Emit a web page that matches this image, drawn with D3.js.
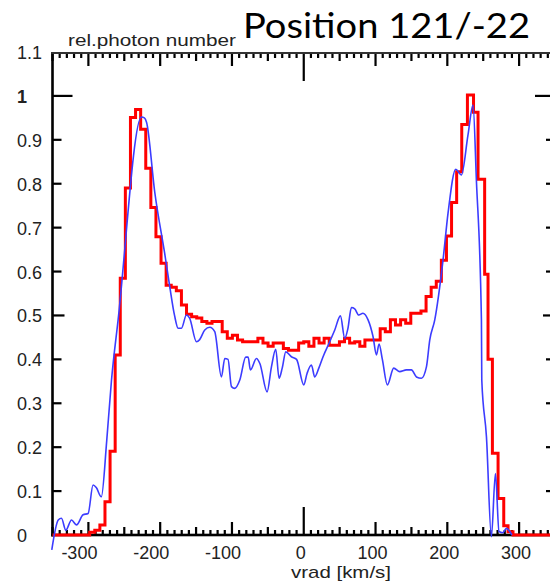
<!DOCTYPE html>
<html><head><meta charset="utf-8">
<script src="https://cdn.jsdelivr.net/npm/d3@7"></script>
<style>html,body{margin:0;padding:0;background:#fff;}svg{display:block;}</style>
</head><body>
<svg id="c" width="550" height="583"></svg>
<script>
// ---- data ----
const title = "Position 121/-22";
const yTitle = "rel.photon number";
const xTitle = "vrad [km/s]";
const xTickLabels = [-300, -200, -100, 0, 100, 200, 300];
const yTickLabels = [0, 0.1, 0.2, 0.3, 0.4, 0.5, 0.6, 0.7, 0.8, 0.9, 1, 1.1];

// red step histogram: left bin edges (km/s) and values
const redEdges = [-350, -298.2, -291.1, -284, -276.9, -269.8, -262.7, -255.6, -248.5, -241.4, -234.3, -227.2, -220.1, -213, -205.9, -198.8, -191.7, -184.6, -177.5, -170.4, -163.3, -156.2, -149.1, -142, -134.9, -127.8, -120.7, -113.6, -106.5, -99.4, -92.3, -85.2, -78.1, -71, -63.9, -56.8, -49.7, -42.6, -35.5, -28.4, -21.3, -14.2, -7.1, 0, 7.1, 14.2, 21.3, 28.4, 35.5, 42.6, 49.7, 56.8, 63.9, 71, 78.1, 85.2, 92.3, 99.4, 106.5, 113.6, 120.7, 127.8, 134.9, 142, 149.1, 156.2, 163.3, 170.4, 177.5, 184.6, 191.7, 198.8, 205.9, 213, 220.1, 228, 236.5, 242.8, 252, 256.7, 262.8, 270.7, 278.6, 284.6, 291.5, 350];
const redVals = [0, 0.006, 0.011, 0.023, 0.076, 0.191, 0.41, 0.585, 0.79, 0.951, 0.969, 0.924, 0.835, 0.746, 0.679, 0.619, 0.569, 0.564, 0.556, 0.524, 0.503, 0.497, 0.494, 0.486, 0.482, 0.486, 0.486, 0.463, 0.448, 0.455, 0.444, 0.44, 0.44, 0.44, 0.448, 0.437, 0.43, 0.437, 0.437, 0.425, 0.421, 0.421, 0.437, 0.44, 0.43, 0.448, 0.437, 0.448, 0.432, 0.432, 0.44, 0.448, 0.437, 0.44, 0.43, 0.444, 0.444, 0.444, 0.47, 0.463, 0.49, 0.478, 0.49, 0.482, 0.505, 0.505, 0.51, 0.543, 0.564, 0.578, 0.626, 0.681, 0.757, 0.827, 0.935, 1.002, 0.963, 0.81, 0.594, 0.40, 0.186, 0.083, 0.021, 0.0075, 0, 0];

// blue line: velocity and value
const blueVel = [-351, -342, -337.5, -331.5, -323.5, -316.6, -307.4, -300.4, -293.5, -289, -282, -274.4, -267.8, -258.6, -226, -222, -219, -207.5, -193.6, -186.6, -180, -175, -170.4, -163.4, -159, -149.4, -145, -137.9, -130.9, -124, -114.7, -110, -105.5, -100.7, -96.1, -89.1, -80.8, -77.5, -74.3, -65.9, -61, -51.1, -45, -39, -34.4, -30, -25, -17.2, -10, 0, 4.6, 10.7, 15.3, 21, 26.9, 36.2, 43.2, 51.1, 57.1, 61.5, 66.4, 71, 76.6, 82.5, 89.6, 96.5, 101.3, 104.9, 109.5, 116.5, 125.3, 133.7, 143, 150, 157, 163.9, 170.9, 175.5, 182.5, 194, 201, 211.7, 219.6, 228.8, 235.8, 240.5, 247.5, 248, 254.5, 261.4, 267, 272, 277, 282.3, 290];
const blueVal = [-0.034, 0.034, 0.038, 0.011, 0.034, 0.023, 0.046, 0.049, 0.114, 0.108, 0.087, 0.216, 0.353, 0.49, 0.952, 0.95, 0.94, 0.78, 0.64, 0.565, 0.5, 0.471, 0.471, 0.501, 0.494, 0.44, 0.445, 0.467, 0.473, 0.463, 0.36, 0.402, 0.4, 0.338, 0.334, 0.353, 0.405, 0.405, 0.376, 0.402, 0.39, 0.326, 0.383, 0.423, 0.357, 0.38, 0.417, 0.406, 0.4, 0.342, 0.368, 0.387, 0.36, 0.38, 0.406, 0.44, 0.467, 0.499, 0.448, 0.47, 0.518, 0.515, 0.501, 0.505, 0.49, 0.452, 0.41, 0.435, 0.4, 0.342, 0.38, 0.372, 0.376, 0.376, 0.36, 0.357, 0.383, 0.444, 0.49, 0.626, 0.733, 0.833, 0.82, 0.911, 0.979, 0.808, 0.49, 0.353, 0.224, -0.004, 0.14, 0.008, 0.005, 0.015, 0];

// ---- chart ----
const svg = d3.select("#c");
const x = d3.scaleLinear().domain([-350, 350]).range([52.5, 555]);
const y = d3.scaleLinear().domain([0, 1.1]).range([535, 52]);

// tick marks as filled rects
const xTicks = d3.range(-350, 351, 10);
function xLen(v) { return v === 0 ? 28 : (v % 100 === 0 ? 13 : (v % 50 === 0 ? 8 : 5)); }
const yTicks = yTickLabels.slice(1, 11);
function yLen(v) { return Math.abs(v - 1) < 1e-9 ? 20 : (Math.abs(v - 0.5) < 1e-9 ? 12 : 9); }
const tw = 2.2;
const gT = svg.append("g").attr("fill", "#000");
gT.selectAll("rect.b").data(xTicks).enter().append("rect")
  .attr("x", d => x(d) - tw / 2).attr("width", tw).attr("y", d => 535 - xLen(d)).attr("height", d => xLen(d));
gT.selectAll("rect.t").data(xTicks).enter().append("rect")
  .attr("x", d => x(d) - tw / 2).attr("width", tw).attr("y", 53).attr("height", d => xLen(d));
gT.selectAll("rect.l").data(yTicks).enter().append("rect")
  .attr("x", 52.5).attr("width", d => yLen(d)).attr("y", d => y(d) - tw / 2).attr("height", tw);
gT.selectAll("rect.r").data(yTicks).enter().append("rect")
  .attr("x", d => 555 - yLen(d)).attr("width", d => yLen(d)).attr("y", d => y(d) - tw / 2).attr("height", tw);

// frame
svg.append("rect").attr("x", 51.2).attr("y", 52).attr("width", 2.6).attr("height", 484.5).attr("fill", "#000");
svg.append("rect").attr("x", 51.2).attr("y", 533.7).attr("width", 505).attr("height", 2.6).attr("fill", "#000");
svg.append("rect").attr("x", 51.2).attr("y", 52).attr("width", 505).attr("height", 2).attr("fill", "#333");

// tick labels
const lblFont = "Liberation Sans, Arial, sans-serif";
svg.append("g").selectAll("text").data(xTickLabels).join("text")
  .attr("x", d => x(d) - 3 - (d < 0 ? 6 : 0)).attr("y", 559)
  .attr("text-anchor", "middle").attr("font-family", lblFont).attr("font-size", 18)
  .attr("fill", "#222").text(d => String(d));
svg.append("g").selectAll("text").data(yTickLabels).join("text")
  .attr("x", 17).attr("y", d => y(d) + 7)
  .attr("font-family", lblFont).attr("font-size", 18)
  .attr("fill", "#222").attr("font-weight", d => d === 1 ? "bold" : "normal").text(d => String(d));

// titles
svg.append("text").attr("x", 68).attr("y", 46).attr("font-family", lblFont).attr("font-size", 16)
  .attr("fill", "#222").attr("textLength", 168).attr("lengthAdjust", "spacingAndGlyphs").text(yTitle);
svg.append("text").attr("x", 291).attr("y", 578).attr("font-family", lblFont).attr("font-size", 17)
  .attr("fill", "#222").attr("textLength", 100).attr("lengthAdjust", "spacingAndGlyphs").text(xTitle);
svg.append("text").attr("x", 243).attr("y", 38).attr("font-family", "Lato, sans-serif").attr("font-size", 35)
  .attr("fill", "#000").attr("textLength", 287).attr("lengthAdjust", "spacingAndGlyphs").text(title);

// red histogram
const redPts = redEdges.map((e, i) => [e, redVals[i]]);
svg.append("path").datum(redPts)
  .attr("d", d3.line().x(d => x(d[0])).y(d => y(d[1])).curve(d3.curveStepAfter))
  .attr("fill", "none").attr("stroke", "#ff0000").attr("stroke-width", 3).attr("stroke-linejoin", "miter");

// blue line
const bluePts = blueVel.map((v, i) => [v, blueVal[i]]);
svg.append("path").datum(bluePts)
  .attr("d", d3.line().x(d => x(d[0])).y(d => y(d[1])).curve(d3.curveMonotoneX))
  .attr("fill", "none").attr("stroke", "#3c3cff").attr("stroke-width", 1.6);
</script>
</body></html>
